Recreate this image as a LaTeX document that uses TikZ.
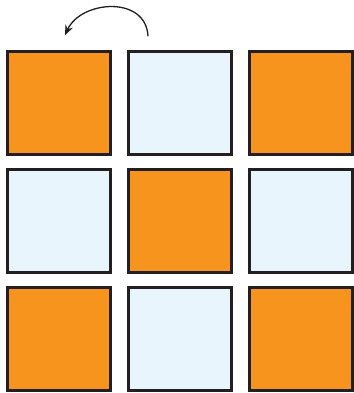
\documentclass[tikz,border=0pt]{standalone}
\usetikzlibrary{arrows.meta}
\definecolor{tileorange}{HTML}{F7941D}
\definecolor{tileblue}{HTML}{E8F5FC}
\definecolor{tileedge}{HTML}{231F20}
\tikzset{
  tile/.style={draw=tileedge, line width=3pt, minimum size=102.5pt, inner sep=0pt},
  turn/.style={tileedge, line width=1.3pt, -{Stealth[length=10pt, width=8pt]}}
}

\begin{document}
\begin{tikzpicture}[x=1pt, y=1pt]
  \useasboundingbox (0,0) rectangle (353,393);
  % 3x3 tiles, row 1 on top
  \foreach \r/\y in {1/290, 2/172, 3/54}{
    \foreach \c/\x in {1/59, 2/180, 3/301}{
      \pgfmathtruncatemacro{\parity}{mod(\r+\c,2)}
      \ifnum\parity=0
        \node[tile, fill=tileorange] (t\r\c) at (\x,\y) {};
      \else
        \node[tile, fill=tileblue] (t\r\c) at (\x,\y) {};
      \fi}}
  % rotation arrow
  \coordinate (from) at ([xshift=-32pt, yshift=14pt]t12.north);
  \coordinate (to) at ([xshift=6pt, yshift=15pt]t11.north);
  \draw[turn] (from) .. controls +(-2,41) and +(16,35) .. (to);
\end{tikzpicture}
\end{document}
